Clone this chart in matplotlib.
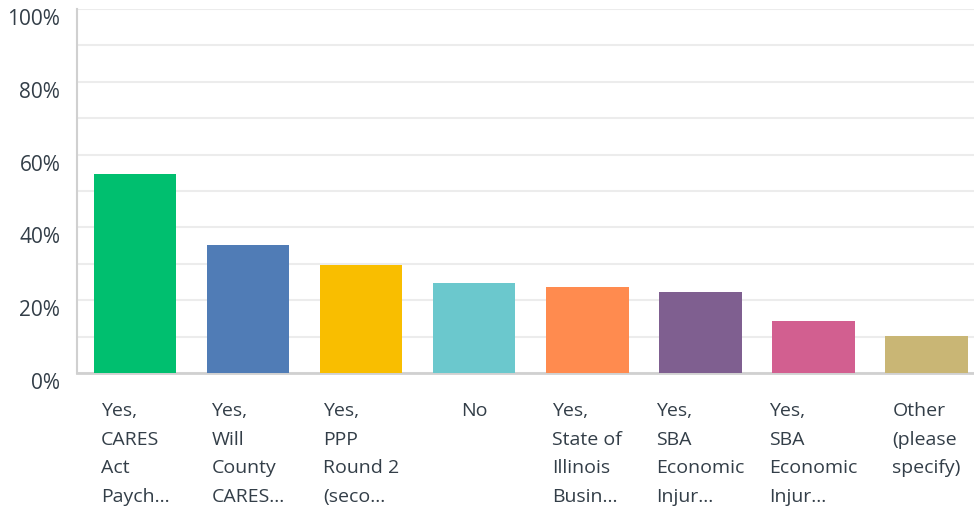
import matplotlib
matplotlib.use("Agg")
import matplotlib.pyplot as plt
import numpy as np

# Values (percent of respondents)
categories = [
    "Yes,\nCARES\nAct\nPaych...",
    "Yes,\nWill\nCounty\nCARES...",
    "Yes,\nPPP\nRound 2\n(seco...",
    "No",
    "Yes,\nState of\nIllinois\nBusin...",
    "Yes,\nSBA\nEconomic\nInjur...",
    "Yes,\nSBA\nEconomic\nInjur...",
    "Other\n(please\nspecify)",
]
values = [54.6, 35.1, 29.6, 24.7, 23.6, 22.2, 14.2, 10.1]
colors = ["#00bf6f", "#507cb6", "#f9be00", "#6bc8cd",
          "#ff8b4f", "#7f5f90", "#d25f90", "#c9b675"]
yticks = [0, 20, 40, 60, 80, 100]
ytick_labels = ["0%", "20%", "40%", "60%", "80%", "100%"]

plt.rcParams['font.family'] = ['Open Sans', 'DejaVu Sans']
text_color = "#333e48"

fig = plt.figure(figsize=(9.74, 5.08), dpi=100)
ax = fig.add_axes([77 / 974, 1 - 373 / 508, 1 - 77 / 974, 364 / 508])

x = np.arange(len(categories))
ax.bar(x, values, width=0.73, color=colors, zorder=3)

ax.set_xlim(-0.513, 7.42)
ax.set_ylim(0, 100)

# light grid every 10%
ax.set_yticks(np.arange(10, 101, 10), minor=True)
ax.grid(axis="y", which="both", color="#ececec", linewidth=1.5, zorder=0)
ax.set_yticks(yticks)
ax.set_yticklabels(ytick_labels, fontsize=15, color=text_color)
for lbl in ax.get_yticklabels():
    lbl.set_verticalalignment("top")
ax.tick_params(axis="y", which="both", length=0, pad=12)

ax.set_xticks(x)
ax.set_xticklabels(categories, fontsize=14, color=text_color,
                   linespacing=1.75, ha="center", va="top", multialignment="left")
ax.tick_params(axis="x", length=0, pad=21)

for side in ["top", "right"]:
    ax.spines[side].set_visible(False)
ax.spines["left"].set_color("#d0d0d0")
ax.spines["left"].set_linewidth(1.5)
ax.spines["bottom"].set_color("#d0d0d0")
ax.spines["bottom"].set_linewidth(2)

fig.savefig("out.png", dpi=100)
